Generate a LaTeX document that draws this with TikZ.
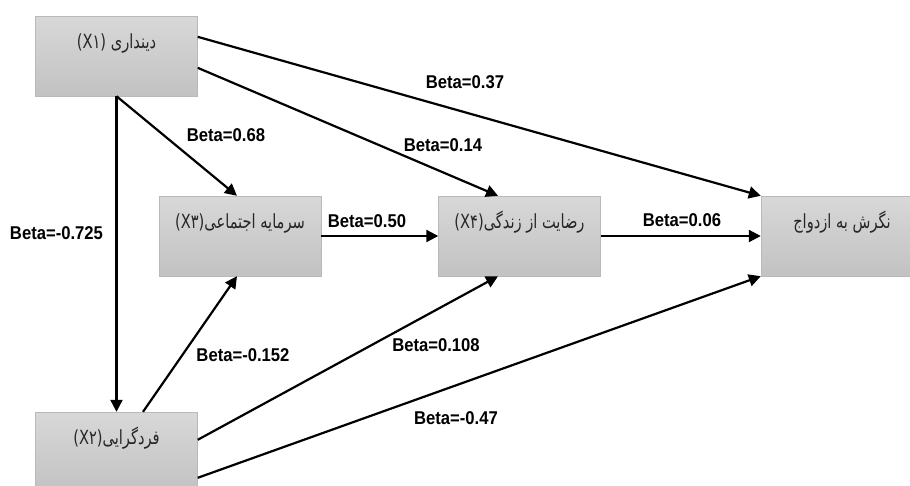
\documentclass[tikz,border=0pt]{standalone}
\usepackage{fontspec}
\usetikzlibrary{arrows.meta,shadings}
\TeXXeTstate=1
\newfontfamily\arabicfont[Script=Arabic,FakeStretch=0.75]{DejaVu Sans}
\newfontfamily\latinfont[FakeStretch=0.75]{DejaVu Sans}
\newfontfamily\betafont[FakeStretch=0.9]{Liberation Sans}
\definecolor{boxtop}{RGB}{216,216,216}
\definecolor{boxbottom}{RGB}{194,194,194}
\definecolor{boxline}{RGB}{185,185,185}
\newcommand{\varlabel}[2]{\beginR{\arabicfont #1}\beginL{\latinfont(X}{\arabicfont #2}{\latinfont)}\endL\endR}

\begin{document}
\begin{tikzpicture}
        [
            x                = 1pt,
            y                = -1pt,
            varbox/.style    = {shape=rectangle, draw=boxline, top color=boxtop, bottom color=boxbottom,
                                minimum width=162pt, text height=32pt, text depth=48pt, inner ysep=0pt,
                                font=\fontsize{19.5}{21}\selectfont, text=black!85},
            beta/.style      = {font=\betafont\bfseries\fontsize{18.5}{20}\selectfont, inner sep=0pt},
            link/.style      = {draw, line width=2.2pt, -{Triangle[length=12pt,width=12pt]}},
        ]
        \useasboundingbox (0,0) rectangle (910,485);
        \node [varbox] (x1) at (116.5,56)  {\varlabel{دینداری }{۱}};
        \node [varbox] (x2) at (116.5,452) {\varlabel{فردگرایی}{۲}};
        \node [varbox] (x3) at (240,236)   {\varlabel{سرمایه اجتماعی}{۳}};
        \node [varbox] (x4) at (519.5,236) {\varlabel{رضایت از زندگی}{۴}};
        \node [varbox] (y)  at (842,236)   {\beginR{\arabicfont نگرش به ازدواج}\endR};

        \draw [link] ([yshift=-21pt]x1.north east) -- (y.north west);
        \draw [link] ([yshift=-52pt]x1.north east) -- ([xshift=-21.5pt]x4.north);
        \draw [link] (x1.south) -- ([xshift=-3pt]x3.north);
        \draw [link] (x1.south) -- (x2.north);
        \draw [link] ([xshift=26.5pt]x2.north) -- ([xshift=-3pt]x3.south);
        \draw [link] ([yshift=-28pt]x2.north east) -- ([xshift=-21.5pt]x4.south);
        \draw [link] ([yshift=-66pt]x2.north east) -- (y.south west);
        \draw [link] (x3) -- (x4);
        \draw [link] (x4) -- (y);

        \node [beta] (b1y)  at (465,82)  {Beta=0.37};
        \node [beta] (b14)  at (443,145) {Beta=0.14};
        \node [beta] (b13)  at (226,135) {Beta=0.68};
        \node [beta] (b12)  at (56.5,233) {Beta=-0.725};
        \node [beta] (b34)  at (367,221) {Beta=0.50};
        \node [beta] (b4y)  at (682,220) {Beta=0.06};
        \node [beta] (b23)  at (243,355) {Beta=-0.152};
        \node [beta] (b24)  at (436,345) {Beta=0.108};
        \node [beta] (b2y)  at (456,418) {Beta=-0.47};
    \end{tikzpicture}
\end{document}
